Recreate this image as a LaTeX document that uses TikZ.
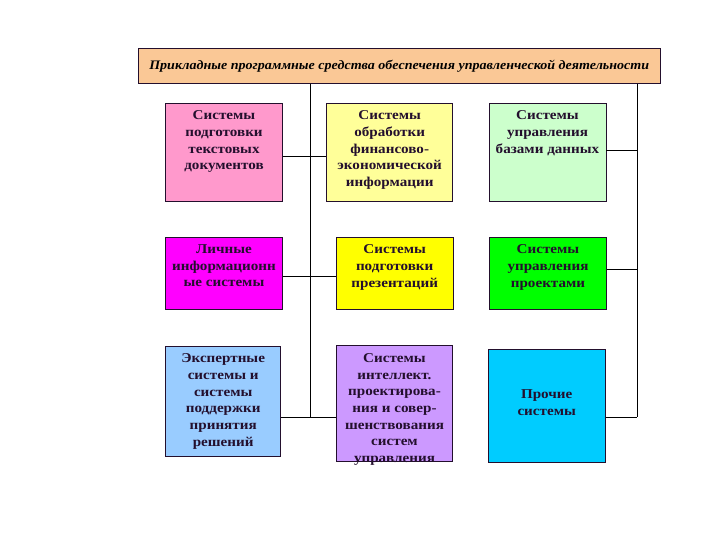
\documentclass[tikz,border=0pt]{standalone}
\usepackage{fontspec}
\setmainfont{Liberation Serif}
\newfontfamily\widefont[FakeStretch=1.12]{Liberation Serif}
\newfontfamily\titlefont[FakeStretch=1.08]{Liberation Serif}
\usetikzlibrary{positioning}
\definecolor{peach}{RGB}{250,200,150}
\definecolor{rosebox}{RGB}{255,153,204}
\definecolor{lemon}{RGB}{255,255,153}
\definecolor{mint}{RGB}{204,255,204}
\definecolor{fuchsia}{RGB}{255,0,255}
\definecolor{sun}{RGB}{255,255,0}
\definecolor{lime}{RGB}{0,255,0}
\definecolor{sky}{RGB}{153,204,255}
\definecolor{lilac}{RGB}{204,153,255}
\definecolor{aqua}{RGB}{0,204,255}
\definecolor{ink}{RGB}{35,15,45}

\begin{document}
\begin{tikzpicture}[x=1pt, y=-1pt,
    box/.style={draw=ink, line width=0.9pt, inner sep=0pt},
    txt/.style={anchor=north, align=center, inner sep=0pt, text=ink,
                font=\widefont\bfseries\fontsize{13.5}{16.7}\selectfont},
    wire/.style={draw=black, line width=0.8pt}]
        \useasboundingbox (0,0) rectangle (720,540);
        \node[box, fill=peach, minimum width=521.7, minimum height=35,
              font=\titlefont\bfseries\itshape\fontsize{13}{15}\selectfont] (title) at (399.2,65.8)
              {Прикладные программные средства обеспечения управленческой деятельности};
        \foreach \n/\cx/\cy/\w/\h/\c in {%
            docs/224/152/117/98/rosebox, fin/389.7/152/126/98/lemon, dbms/547.5/152/117/98/mint,
            pers/224/273/117/72/fuchsia, pres/394.7/273/117/72/sun, proj/548/273/117/72/lime,
            expert/223.2/401.3/115/110.7/sky, intel/394.5/403.7/115.6/116/lilac,
            other/546.7/405.8/116.7/113/aqua}
        {
            \node[box, fill=\c, minimum width=\w, minimum height=\h] (\n) at (\cx,\cy) {};
        }
        \foreach \n/\t in {%
            docs/{Системы\\подготовки\\текстовых\\документов},
            fin/{Системы\\обработки\\финансово-\\экономической\\информации},
            dbms/{Системы\\управления\\базами данных},
            pers/{Личные\\информационн\\ые системы},
            pres/{Системы\\подготовки\\презентаций},
            proj/{Системы\\управления\\проектами},
            expert/{Экспертные\\системы и\\системы\\поддержки\\принятия\\решений},
            intel/{Системы\\интеллект.\\проектирова-\\ния и совер-\\шенствования\\систем\\управления}}
        {
            \node[txt] (\n-t) at ([yshift=-8pt]\n.north) {\t};
        }
        \node[txt, anchor=center] (other-t) at ([yshift=3pt]other.center) {Прочие\\системы};
        % vertical buses
        \coordinate (busL) at (310,417);
        \coordinate (busR) at (637,417);
        \draw[wire] (title.south -| busL) -- (busL);
        \draw[wire] (title.south -| busR) -- (busR);
        % links to the buses
        \draw[wire] ([yshift=-4pt]docs.east) -- ([yshift=-4pt]fin.west);
        \draw[wire] ([yshift=2pt]dbms.east) -- ([yshift=2pt]dbms.east -| busR);
        \draw[wire] ([yshift=-3pt]pers.east) -- ([yshift=-3pt]pres.west);
        \draw[wire] ([yshift=4pt]proj.east) -- ([yshift=4pt]proj.east -| busR);
        \draw[wire] (expert.east |- busL) -- (intel.west |- busL);
        \draw[wire] (other.east |- busR) -- (busR);
    \end{tikzpicture}
\end{document}
